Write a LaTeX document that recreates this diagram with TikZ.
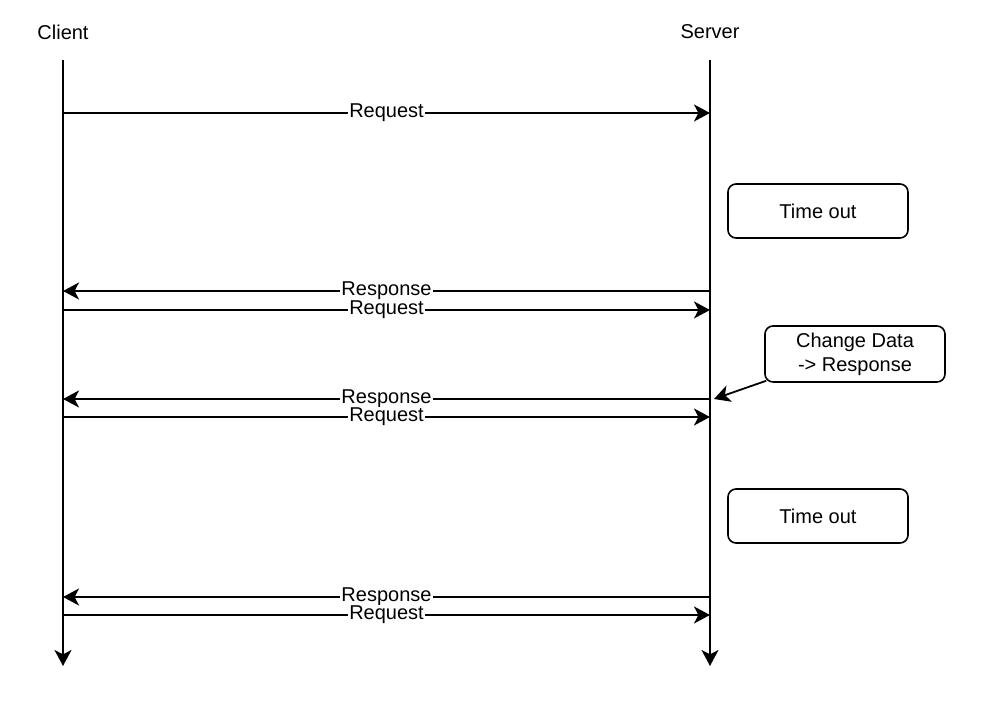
\documentclass[tikz,border=0pt]{standalone}
\usepackage{fontspec}
\setmainfont{Liberation Sans}
\usetikzlibrary{arrows.meta}
\tikzset{
  msg/.style={line width=0.9pt, -{Stealth[length=8pt, width=8.5pt, inset=2.2pt]}},
  msglabel/.style={fill=white, inner sep=0.6pt, font=\fontsize{10}{12}\selectfont},
  notebox/.style={draw, line width=0.8pt, rounded corners=4pt, minimum width=90pt,
    minimum height=27pt, align=center, font=\fontsize{10}{12}\selectfont}
}
\begin{document}
\begin{tikzpicture}[x=0.5pt, y=-0.5pt]
        \useasboundingbox (0,0) rectangle (986,704);
        % Coordinates
        \coordinate (C0) at (63,60);
        \coordinate (C1) at (63,666);
        \coordinate (S0) at (710,60);
        \coordinate (S1) at (710,666);
        \foreach \y [count=\i] in {113,291,310,399,417,597,615} {
          \coordinate (c\i) at (63,\y);
          \coordinate (s\i) at (710,\y);
        }

        % Labels
        \node (client) at (63,32) [font=\fontsize{10}{12}\selectfont] {Client};
        \node (server) at (710,32) [font=\fontsize{10}{12}\selectfont] {Server};

        % Lifelines
        \draw[msg] (C0) -- (C1);
        \draw[msg] (S0) -- (S1);

        % Messages
        \draw[msg] (c1) -- node[msglabel] {Request} (s1);
        \draw[msg] (s2) -- node[msglabel] {Response} (c2);
        \draw[msg] (c3) -- node[msglabel] {Request} (s3);
        \draw[msg] (s4) -- node[msglabel] {Response} (c4);
        \draw[msg] (c5) -- node[msglabel] {Request} (s5);
        \draw[msg] (s6) -- node[msglabel] {Response} (c6);
        \draw[msg] (c7) -- node[msglabel] {Request} (s7);

        % Notes
        \node[notebox] (timeout1) at (818,211) {Time out};
        \node[notebox] (change) at (855,354) {Change Data\\-> Response};
        \node[notebox] (timeout2) at (818,516) {Time out};
        \draw[msg] ([xshift=1pt,yshift=1pt]change.south west) -- ([xshift=2pt]s4);
    \end{tikzpicture}
\end{document}
